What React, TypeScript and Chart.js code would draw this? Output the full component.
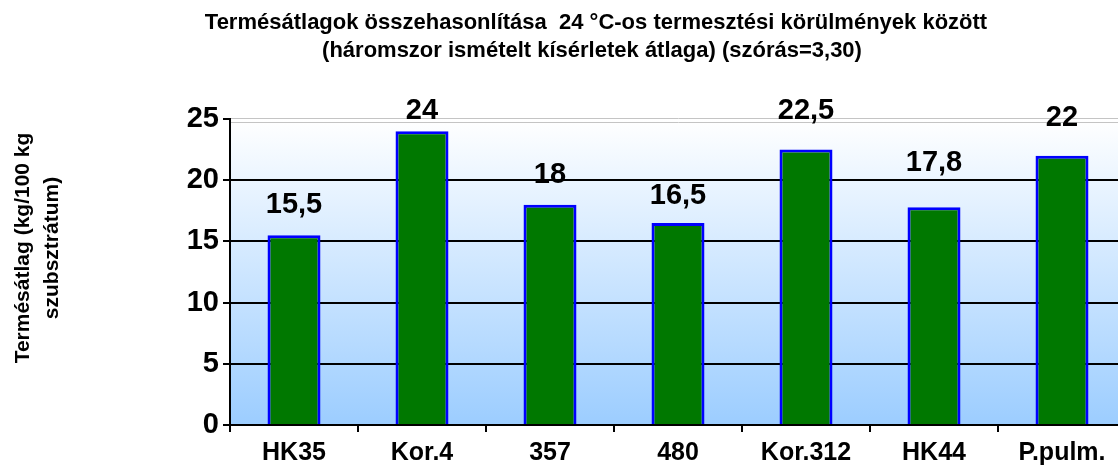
import React, { useEffect, useRef } from "react";
import { Chart, registerables } from "chart.js";

Chart.register(...registerables);

const titleLines = [
  "Termésátlagok összehasonlítása  24 °C-os termesztési körülmények között",
  "(háromszor ismételt kísérletek átlaga) (szórás=3,30)",
];
const yTitleLines = ["Termésátlag (kg/100 kg", "szubsztrátum)"];
const categories = ["HK35", "Kor.4", "357", "480", "Kor.312", "HK44", "P.pulm."];
const values = [15.5, 24, 18, 16.5, 22.5, 17.8, 22];
// pixel lift of each value label above its bar top (labels were hand-placed)
const labelLift = [30, 20, 30, 27, 39, 44, 38];
const yMin = 0;
const yMax = 25;
const yStep = 5;

const FONT = "'Liberation Sans', Arial, sans-serif";

const decorPlugin = {
  id: "decor",
  beforeDraw(chart: any) {
    const { ctx, chartArea } = chart;
    const g = ctx.createLinearGradient(0, chartArea.top, 0, chartArea.bottom);
    g.addColorStop(0, "#ffffff");
    g.addColorStop(1, "#9ccdff");
    ctx.save();
    ctx.fillStyle = g;
    ctx.fillRect(chartArea.left, chartArea.top, chartArea.right - chartArea.left, chartArea.bottom - chartArea.top);
    ctx.restore();
  },
  afterDraw(chart: any) {
    const { ctx, chartArea } = chart;
    const yScale = chart.scales.y;
    ctx.save();
    const yTop = yScale.getPixelForValue(yMax);
    ctx.strokeStyle = "#c4c4c4";
    ctx.lineWidth = 1;
    [yTop - 1.5, yTop + 2.5].forEach((yy) => {
      ctx.beginPath();
      ctx.moveTo(chartArea.left + 1, Math.round(yy) + 0.5);
      ctx.lineTo(chartArea.right, Math.round(yy) + 0.5);
      ctx.stroke();
    });
    ctx.fillStyle = "#000";
    ctx.textAlign = "center";
    ctx.textBaseline = "middle";
    ctx.font = `bold 22px ${FONT}`;
    ctx.fillText(titleLines[0], 596, 23);
    ctx.fillText(titleLines[1], 592, 51);
    ctx.font = `bold 21px ${FONT}`;
    ctx.translate(0, 248);
    ctx.rotate(-Math.PI / 2);
    ctx.fillText(yTitleLines[0], 0, 23);
    ctx.fillText(yTitleLines[1], 0, 52);
    ctx.restore();

    const meta = chart.getDatasetMeta(0);
    ctx.save();
    ctx.fillStyle = "#000";
    ctx.textAlign = "center";
    ctx.textBaseline = "middle";
    ctx.font = `bold 29px ${FONT}`;
    meta.data.forEach((bar: any, i: number) => {
      const txt = String(values[i]).replace(".", ",");
      ctx.fillText(txt, bar.x, bar.y - labelLift[i]);
    });
    ctx.restore();
  },
};

export default function App() {
  const ref = useRef<HTMLCanvasElement | null>(null);
  useEffect(() => {
    if (!ref.current) return;
    const chart = new Chart(ref.current, {
      type: "bar",
      data: {
        labels: categories,
        datasets: [
          {
            data: values,
            backgroundColor: "#007800",
            borderColor: "#0000ff",
            borderWidth: 3,
            borderSkipped: "start",
            barPercentage: 0.414,
            categoryPercentage: 1,
          },
        ],
      },
      options: {
        animation: false,
        responsive: true,
        maintainAspectRatio: false,
        layout: { padding: { top: 119, left: 0, right: 0, bottom: 0 } },
        plugins: {
          legend: { display: false },
          tooltip: { enabled: false },
          title: { display: false },
        },
        scales: {
          x: {
            offset: true,
            grid: {
              display: true,
              offset: true,
              drawOnChartArea: false,
              drawTicks: true,
              tickLength: 7,
              color: "#000",
              lineWidth: 2,
            },
            border: { display: true, color: "#000", width: 2 },
            ticks: {
              color: "#000",
              padding: 6,
              font: { family: FONT, size: 25, weight: "bold" },
              maxRotation: 0,
              autoSkip: false,
            },
            afterFit: (s: any) => {
              s.height = 41;
            },
          },
          y: {
            min: yMin,
            max: yMax,
            ticks: {
              stepSize: yStep,
              color: "#000",
              padding: 4,
              font: { family: FONT, size: 29, weight: "bold" },
            },
            grid: {
              color: (c: any) => (c.tick && c.tick.value === yMax ? "rgba(0,0,0,0)" : "#000"),
              tickColor: "#000",
              lineWidth: 2,
              tickLength: 7,
              drawTicks: true,
            },
            border: { display: true, color: "#000", width: 2 },
            afterFit: (s: any) => {
              s.width = 230;
            },
          },
        },
      },
      plugins: [decorPlugin],
    });
    return () => chart.destroy();
  }, []);

  return (
    <div style={{ position: "fixed", left: 0, top: 0, width: 1118, height: 466, overflow: "hidden", background: "#fff" }}>
      <div style={{ position: "absolute", left: 0, top: 0, width: 1126, height: 466 }}>
        <canvas ref={ref} />
      </div>
    </div>
  );
}
